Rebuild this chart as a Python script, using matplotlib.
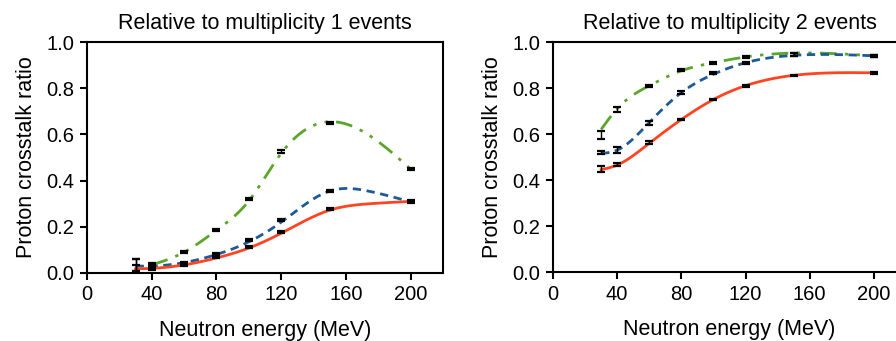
import numpy as np
import matplotlib
matplotlib.use("Agg")
import matplotlib.pyplot as plt

plt.rcParams['font.family'] = ['Liberation Sans', 'DejaVu Sans']

energy = [30, 40, 60, 80, 100, 120, 150, 200]

# Panel 1: relative to multiplicity 1 events
m1_green = [0.035, 0.035, 0.091, 0.187, 0.321, 0.526, 0.651, 0.450]
m1_blue = [0.035, 0.025, 0.043, 0.083, 0.144, 0.230, 0.356, 0.311]
m1_red = [0.020, 0.022, 0.036, 0.068, 0.111, 0.176, 0.277, 0.308]
m1_green_err = [0.025, 0.008, 0.005, 0.005, 0.005, 0.005, 0.004, 0.004]
m1_blue_err = [0.025, 0.008, 0.005, 0.005, 0.005, 0.005, 0.004, 0.004]
m1_red_err = [0.015, 0.008, 0.005, 0.004, 0.004, 0.004, 0.003, 0.004]
# fitted curves (values of the drawn curve read at these energies)
m1_green_fit_x = [40, 60, 80, 100, 120, 150, 200]
m1_green_fit = [0.035, 0.090, 0.185, 0.312, 0.518, 0.655, 0.450]
m1_fit_x = [30, 40, 60, 80, 100, 120, 150, 175, 200]
m1_blue_fit = [0.030, 0.030, 0.045, 0.080, 0.135, 0.220, 0.355, 0.353, 0.308]
m1_red_fit = [0.018, 0.020, 0.035, 0.065, 0.108, 0.172, 0.272, 0.300, 0.310]

# Panel 2: relative to multiplicity 2 events
m2_green = [0.596, 0.707, 0.809, 0.878, 0.910, 0.933, 0.946, 0.939]
m2_blue = [0.519, 0.530, 0.649, 0.781, 0.864, 0.910, 0.946, 0.940]
m2_red = [0.448, 0.467, 0.562, 0.664, 0.751, 0.809, 0.855, 0.866]
m2_green_err = [0.016, 0.010, 0.006, 0.004, 0.004, 0.004, 0.005, 0.005]
m2_blue_err = [0.007, 0.012, 0.008, 0.006, 0.004, 0.004, 0.005, 0.005]
m2_red_err = [0.013, 0.008, 0.006, 0.003, 0.003, 0.003, 0.003, 0.003]
m2_green_fit = [0.620, 0.710, 0.810, 0.875, 0.910, 0.935, 0.952, 0.940]
m2_blue_fit = [0.515, 0.530, 0.650, 0.780, 0.860, 0.910, 0.942, 0.940]
m2_red_fit = [0.445, 0.465, 0.560, 0.663, 0.750, 0.810, 0.855, 0.866]

titles = ["Relative to multiplicity 1 events", "Relative to multiplicity 2 events"]
xticks = [0, 40, 80, 120, 160, 200]
yticks = [0.0, 0.2, 0.4, 0.6, 0.8, 1.0]

RED = "#ff4422"
BLUE = "#1d5a96"
GREEN = "#5aa62a"


def natural_spline(x, y, xs):
    x = np.asarray(x, float)
    y = np.asarray(y, float)
    n = len(x)
    h = np.diff(x)
    A = np.zeros((n, n))
    b = np.zeros(n)
    A[0, 0] = 1
    A[-1, -1] = 1
    for i in range(1, n - 1):
        A[i, i - 1] = h[i - 1]
        A[i, i] = 2 * (h[i - 1] + h[i])
        A[i, i + 1] = h[i]
        b[i] = 3 * ((y[i + 1] - y[i]) / h[i] - (y[i] - y[i - 1]) / h[i - 1])
    c = np.linalg.solve(A, b)
    out = np.empty_like(xs)
    for k, xv in enumerate(xs):
        i = min(max(np.searchsorted(x, xv) - 1, 0), n - 2)
        dx = xv - x[i]
        bi = (y[i + 1] - y[i]) / h[i] - h[i] * (2 * c[i] + c[i + 1]) / 3
        di = (c[i + 1] - c[i]) / (3 * h[i])
        out[k] = y[i] + bi * dx + c[i] * dx ** 2 + di * dx ** 3
    return out


fig = plt.figure(figsize=(8.96, 3.41), dpi=100)
ax1 = fig.add_axes([87 / 896, 1 - 273 / 341, 356 / 896, 231 / 341])
ax2 = fig.add_axes([553 / 896, 1 - 272 / 341, 353 / 896, 230 / 341])

DASHDOTDOT = (0, (6, 3, 1.2, 3, 1.2, 3))
DASHED = (0, (3, 2))

panels = [
    (ax1, [(m1_green_fit_x, m1_green_fit, GREEN, DASHDOTDOT),
           (m1_fit_x, m1_blue_fit, BLUE, DASHED),
           (m1_fit_x, m1_red_fit, RED, '-')],
     [(m1_green, m1_green_err), (m1_blue, m1_blue_err), (m1_red, m1_red_err)]),
    (ax2, [(energy, m2_green_fit, GREEN, DASHDOTDOT),
           (energy, m2_blue_fit, BLUE, DASHED),
           (energy, m2_red_fit, RED, '-')],
     [(m2_green, m2_green_err), (m2_blue, m2_blue_err), (m2_red, m2_red_err)]),
]

for (ax, fits, pts), title in zip(panels, titles):
    for fx, fy, col, ls in fits:
        xs = np.linspace(fx[0], fx[-1], 300)
        ax.plot(xs, natural_spline(fx, fy, xs), color=col, lw=2.0, ls=ls, zorder=2)
    for y, e in pts:
        ax.errorbar(energy, y, yerr=e, fmt='none', ecolor='black', elinewidth=1.0,
                    capsize=2.8, capthick=1.6, zorder=3)
    ax.set_xlim(0, 220)
    ax.set_ylim(0, 1.0)
    ax.set_xticks(xticks)
    ax.set_yticks(yticks)
    ax.set_yticklabels([f"{t:.1f}" for t in yticks])
    ax.tick_params(direction='out', length=5, width=1.5, labelsize=14.5, pad=4)
    for s in ax.spines.values():
        s.set_linewidth(1.5)
    ax.set_title(title, fontsize=15.5, pad=9)
    ax.set_xlabel("Neutron energy (MeV)", fontsize=15.5, labelpad=11)
    ax.set_ylabel("Proton crosstalk ratio", fontsize=15.5, labelpad=7)

fig.savefig("out.png", dpi=100)
